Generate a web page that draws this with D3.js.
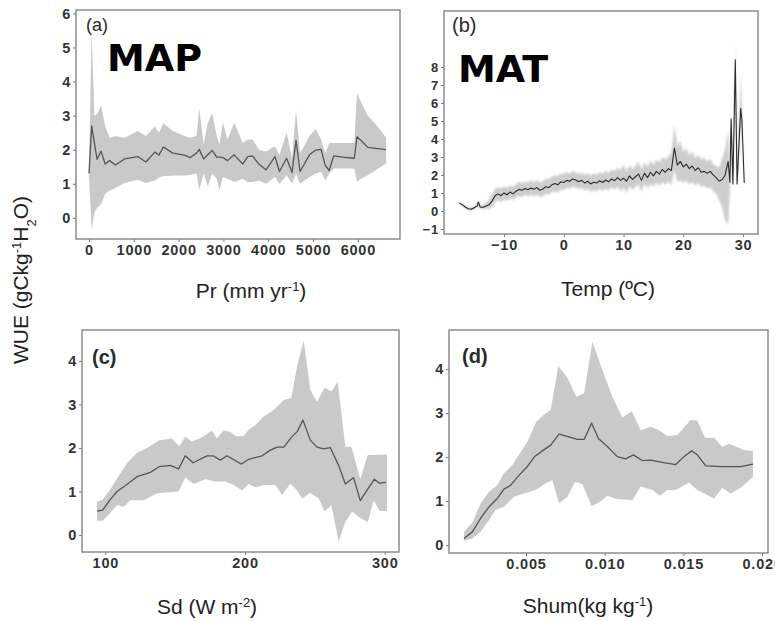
<!DOCTYPE html>
<html>
<head>
<meta charset="utf-8">
<script src="https://cdn.jsdelivr.net/npm/d3@7"></script>
<style>
  body { margin: 0; background: #fff; }
  svg text { font-family: "Liberation Sans", Arial, sans-serif; }
</style>
</head>
<body>
<svg id="chart" width="775" height="621"></svg>
<script>
// ---- (a) WUE vs precipitation ----
const prX    = [0,60,120,180,270,360,460,590,790,1090,1270,1470,1560,1660,1870,2130,2260,2400,2460,2560,2650,2750,2850,2910,2990,3090,3240,3430,3540,3650,3790,3950,4150,4250,4410,4530,4620,4710,4920,5060,5180,5270,5360,5460,5660,5920,5980,6070,6220,6400,6630];
const prMean = [1.30,2.70,2.20,1.72,1.96,1.58,1.68,1.55,1.73,1.80,1.64,1.93,1.84,2.08,1.90,1.84,1.77,1.90,2.01,1.73,1.85,1.98,1.78,1.78,1.77,1.68,1.85,1.58,1.80,1.82,1.58,1.41,1.80,1.36,1.75,1.33,2.27,1.36,1.85,1.99,2.01,1.55,1.39,1.82,1.78,1.75,2.38,2.27,2.07,2.04,2.00];
const prHi   = [1.40,5.50,3.00,3.05,3.30,2.70,2.35,2.40,2.35,2.55,2.40,2.68,2.50,2.78,2.55,2.40,2.35,2.40,3.22,2.15,2.78,3.07,2.40,2.15,2.80,2.30,2.80,2.20,2.30,2.30,2.00,1.95,2.10,1.85,2.50,1.75,3.17,1.90,2.40,2.60,2.30,1.90,2.20,2.20,2.20,2.20,3.66,3.40,3.00,2.75,2.35];
const prLo   = [1.20,-0.35,0.14,0.30,0.40,0.70,0.80,0.88,1.02,1.12,1.02,1.10,1.18,1.22,1.24,1.24,1.26,1.30,0.82,1.30,0.92,1.30,1.15,0.82,1.20,1.15,1.05,1.15,1.05,1.05,1.10,1.00,1.20,1.00,1.25,1.00,1.30,1.00,1.20,1.30,1.35,1.10,1.30,1.45,1.45,1.45,1.07,1.15,1.25,1.40,1.60];
const prTicksX = [0,1000,2000,3000,4000,5000,6000];
const prTicksY = [0,1,2,3,4,5,6];

// ---- (b) WUE vs temperature ----
const tX    = [-17.5,-17,-16.5,-16,-15.5,-15,-14.5,-14.3,-14,-13.5,-13,-12.5,-12,-11.5,-11,-10.5,-10,-9.5,-9,-8.5,-8,-7.5,-7,-6.5,-6,-5.5,-5,-4.5,-4,-3.5,-3,-2.5,-2,-1.5,-1,-0.5,0,0.5,1,1.5,2,2.5,3,3.5,4,4.5,5,5.5,6,6.5,7,7.5,8,8.5,9,9.5,10,10.5,11,11.5,12,12.5,13,13.5,14,14.5,15,15.5,16,16.5,17,17.5,18,18.5,19,19.5,20,20.5,21,21.5,22,22.5,23,23.5,24,24.5,25,25.5,26,26.5,27,27.5,27.8,28.0,28.3,28.7,29.0,29.6,29.8,30.2];
const tMean = [0.45,0.35,0.22,0.12,0.10,0.18,0.28,0.50,0.22,0.20,0.28,0.35,0.55,0.85,0.95,0.85,1.00,0.90,1.05,0.95,1.10,1.20,1.15,1.25,1.18,1.28,1.20,1.30,1.15,1.22,1.35,1.30,1.45,1.52,1.45,1.62,1.58,1.70,1.65,1.78,1.72,1.62,1.70,1.55,1.65,1.50,1.60,1.55,1.68,1.58,1.72,1.62,1.78,1.68,1.85,1.70,1.82,1.65,1.95,1.75,1.90,2.05,1.70,2.10,1.85,2.15,1.95,2.20,2.05,2.30,2.15,2.35,2.25,3.50,2.55,2.75,2.45,2.60,2.35,2.50,2.25,2.40,2.15,2.20,2.10,2.20,2.00,1.85,1.65,1.75,2.00,2.75,1.60,5.10,1.50,8.40,1.50,5.70,5.10,1.55];
const tHi   = [0.52,0.42,0.30,0.20,0.18,0.26,0.38,0.60,0.32,0.32,0.45,0.65,0.95,1.25,1.30,1.25,1.35,1.30,1.40,1.35,1.50,1.62,1.55,1.62,1.58,1.70,1.60,1.72,1.58,1.65,1.80,1.78,1.92,1.98,1.95,2.08,2.05,2.15,2.10,2.22,2.15,2.05,2.12,2.00,2.10,1.98,2.08,2.02,2.15,2.05,2.25,2.10,2.30,2.20,2.40,2.25,2.60,2.20,2.55,2.30,2.50,2.75,2.30,2.70,2.45,2.80,2.55,2.85,2.70,3.00,2.85,3.05,3.20,4.80,3.60,3.90,3.30,3.50,3.10,3.30,2.95,3.10,2.85,2.95,2.75,2.90,2.60,2.50,2.40,2.90,3.40,4.50,2.00,5.60,2.00,9.30,2.00,7.70,5.80,1.70];
const tLo   = [0.38,0.28,0.14,0.04,0.02,0.10,0.18,0.40,0.12,0.10,0.12,0.10,0.20,0.50,0.60,0.48,0.65,0.55,0.70,0.60,0.75,0.82,0.78,0.88,0.80,0.90,0.82,0.92,0.78,0.82,0.95,0.90,1.05,1.10,1.02,1.20,1.15,1.30,1.22,1.35,1.30,1.20,1.28,1.12,1.22,1.05,1.15,1.10,1.22,1.12,1.25,1.15,1.30,1.18,1.35,1.10,1.30,1.00,1.40,1.15,1.35,1.45,1.05,1.50,1.25,1.50,1.35,1.55,1.40,1.60,1.45,1.65,1.40,2.30,1.60,1.70,1.55,1.70,1.45,1.60,1.40,1.55,1.35,1.40,1.25,1.30,1.10,0.95,0.60,0.20,-0.50,-0.80,1.20,3.50,1.30,6.50,1.30,4.50,4.80,1.40];
const tTicksX = [-10,0,10,20,30];
const tTicksY = [-1,0,1,2,3,4,5,6,7,8];

// ---- (c) WUE vs downward shortwave radiation ----
const sdX     = [94,98.1,103.6,108.4,113.2,122.7,132.2,138.6,146.5,152.5,157.2,162.8,172.8,177.1,182.3,187.1,197.4,202.6,212.2,218.1,222.9,227.7,233.6,237.2,241.5,246.7,251.5,256.3,261.0,267.0,271.8,277.7,282.5,287.3,292.5,296.3,300.8];
const sdMean  = [0.55,0.57,0.82,1.00,1.11,1.34,1.44,1.57,1.60,1.52,1.82,1.66,1.82,1.82,1.72,1.82,1.63,1.74,1.82,1.95,2.02,2.02,2.26,2.37,2.64,2.18,2.02,1.98,2.01,1.60,1.17,1.32,0.79,1.03,1.28,1.19,1.21];
const sdHiX   = [94,98,103.6,109.6,115.5,122.7,131,138.6,147.7,152.9,157.2,162,169.1,176.3,179.9,184.6,189.4,193.5,199,202.1,207.4,213.3,220.5,227.7,233.1,237.2,242,246.7,251.5,257,261.8,266.3,271.8,276.1,282.5,287.8,301.6];
const sdHi    = [0.77,0.81,1.05,1.36,1.65,1.89,2.02,2.18,2.22,2.04,2.26,2.15,2.24,2.40,2.22,2.40,2.37,2.27,2.27,2.40,2.53,2.72,2.87,3.10,3.15,3.87,4.47,3.33,3.06,3.39,3.30,3.52,2.03,2.03,1.28,1.84,1.85];
const sdLoX   = [94,98,103.6,108.4,113.2,118,127.5,137,152.5,157.2,163.2,171.6,178.7,185.9,191.9,197.9,202.6,207.4,213.3,221.7,226.5,232.4,237.2,240.8,246.7,252.7,257,261.8,267,271.8,276.6,282.5,287.8,292.1,296.3,301.6];
const sdLo    = [0.33,0.33,0.51,0.69,0.65,0.80,0.80,0.96,1.00,1.32,1.17,1.28,1.23,1.23,1.15,1.02,1.17,1.10,1.15,1.15,0.92,1.18,1.03,0.84,0.97,0.84,0.54,0.69,-0.15,0.30,0.54,0.39,0.30,0.80,0.55,0.55];
const sdTicksX = [100,200,300];
const sdTicksY = [0,1,2,3,4];

// ---- (d) WUE vs specific humidity ----
const shX     = [0.00106,0.00159,0.00212,0.00265,0.00318,0.0036,0.00403,0.00456,0.00508,0.00557,0.00604,0.00657,0.0071,0.00773,0.00826,0.00869,0.00917,0.0096,0.01017,0.0108,0.01133,0.01182,0.01239,0.01292,0.01366,0.01451,0.01504,0.01553,0.01588,0.01642,0.01747,0.01864,0.01942];
const shMean  = [0.15,0.30,0.61,0.87,1.06,1.27,1.36,1.59,1.78,2.02,2.14,2.27,2.52,2.46,2.40,2.40,2.77,2.42,2.24,2.01,1.96,2.05,1.92,1.93,1.88,1.83,2.01,2.14,2.05,1.80,1.78,1.78,1.84];
const shHiX   = [0.00106,0.00159,0.00212,0.00265,0.00318,0.0036,0.00414,0.0046,0.00508,0.00565,0.00614,0.00657,0.00705,0.00763,0.0082,0.00869,0.00922,0.00985,0.01049,0.01112,0.01172,0.01229,0.01292,0.01345,0.01398,0.01462,0.01546,0.01588,0.01637,0.01695,0.01747,0.0179,0.01885,0.01942];
const shHi    = [0.30,0.51,0.95,1.21,1.36,1.63,1.82,2.08,2.34,2.80,2.96,3.07,4.07,3.80,3.37,3.45,4.62,3.98,3.37,2.90,3.04,2.61,2.69,2.61,2.48,2.50,2.84,2.83,2.44,2.44,2.23,2.30,2.16,2.14];
const shLoX   = [0.00106,0.00159,0.00212,0.00265,0.00307,0.0036,0.00424,0.00487,0.00561,0.00625,0.00667,0.0071,0.00763,0.00812,0.00858,0.00917,0.00964,0.01017,0.0107,0.01176,0.01229,0.01303,0.0135,0.01398,0.01451,0.01536,0.01588,0.01695,0.01747,0.018,0.01864,0.01942];
const shLo    = [0.10,0.15,0.30,0.57,0.80,0.87,1.10,1.17,1.25,1.40,1.48,0.95,1.10,1.44,1.39,0.89,0.97,1.12,1.05,1.02,1.33,1.25,1.12,1.25,1.25,1.42,1.25,1.06,1.30,1.17,1.30,1.55];
const shTicksX = [0.005,0.010,0.015,0.020];
const shTicksY = [0,1,2,3,4];

const svg = d3.select("#chart");
const defs = svg.append("defs");
defs.append("filter").attr("id", "soft")
  .attr("x", "-5%").attr("y", "-5%").attr("width", "110%").attr("height", "110%")
  .append("feGaussianBlur").attr("stdDeviation", 1.1);

function drawPanel(p) {
  const x = d3.scaleLinear().domain(p.xDomain).range([p.left, p.right]);
  const y = d3.scaleLinear().domain(p.yDomain).range([p.bottom, p.top]);
  const g = svg.append("g");

  defs.append("clipPath").attr("id", "clip-" + p.id)
    .append("rect").attr("x", p.left).attr("y", p.top)
    .attr("width", p.right - p.left).attr("height", p.bottom - p.top);

  const plot = g.append("g").attr("clip-path", `url(#clip-${p.id})`);
  const line = d3.line().x(d => x(d[0])).y(d => y(d[1]));

  // uncertainty band: upper edge, then lower edge back
  const band = d3.zip(p.hiX, p.hi).concat(d3.zip(p.loX, p.lo).reverse());
  const bandPath = plot.append("path")
    .attr("d", line(band) + "Z")
    .attr("fill", p.bandFill)
    .attr("stroke", "none");
  if (p.soft) bandPath.attr("filter", "url(#soft)");

  plot.append("path")
    .attr("d", line(d3.zip(p.meanX, p.mean)))
    .attr("fill", "none")
    .attr("stroke", p.lineColor)
    .attr("stroke-width", p.lineWidth)
    .attr("stroke-linejoin", "round");

  // axes
  const xAxis = g.append("g").attr("transform", `translate(0,${p.bottom})`)
    .call(d3.axisBottom(x).tickValues(p.xTicks).tickFormat(p.xFmt).tickSize(3).tickPadding(3));
  const yAxis = g.append("g").attr("transform", `translate(${p.left},0)`)
    .call(d3.axisLeft(y).tickValues(p.yTicks).tickFormat(d3.format("d")).tickSize(3).tickPadding(2));
  [xAxis, yAxis].forEach(a => {
    a.select(".domain").remove();
    a.selectAll(".tick line").attr("stroke", "#777");
    a.selectAll(".tick text")
      .attr("fill", "#333")
      .style("font-family", '"Liberation Sans", Arial, sans-serif')
      .style("font-weight", "bold")
      .style("letter-spacing", "0.8px");
  });
  xAxis.selectAll(".tick text").style("font-size", "14.5px");
  yAxis.selectAll(".tick text").style("font-size", p.yFont);

  // panel frame
  g.append("rect")
    .attr("x", p.left).attr("y", p.top)
    .attr("width", p.right - p.left).attr("height", p.bottom - p.top)
    .attr("fill", "none").attr("stroke", "#8c8c8c").attr("stroke-width", 1.5);

  // panel tag
  g.append("text").attr("x", p.tagX).attr("y", p.tagY)
    .attr("fill", "#2a2a2a")
    .style("font-size", p.tagSize).style("font-weight", p.tagWeight)
    .text(p.tag);
}

drawPanel({
  id: "a", left: 76, right: 400, top: 10, bottom: 239,
  xDomain: [-290, 6940], yDomain: [-0.62, 6.10],
  xTicks: prTicksX, yTicks: prTicksY, xFmt: d3.format("d"), yFont: "14.5px",
  meanX: prX, mean: prMean, hiX: prX, hi: prHi, loX: prX, lo: prLo,
  bandFill: "#c9c9c9", lineColor: "#555", lineWidth: 1.3, soft: false,
  tag: "(a)", tagX: 86, tagY: 31, tagSize: "18px", tagWeight: "normal"
});

drawPanel({
  id: "b", left: 444, right: 758, top: 11, bottom: 234,
  xDomain: [-20.05, 32.5], yDomain: [-1.28, 11.11],
  xTicks: tTicksX, yTicks: tTicksY, xFmt: d3.format("d"), yFont: "13px",
  meanX: tX, mean: tMean, hiX: tX, hi: tHi, loX: tX, lo: tLo,
  bandFill: "#cdcdcd", lineColor: "#2b2b2b", lineWidth: 1.1, soft: true,
  tag: "(b)", tagX: 452, tagY: 32, tagSize: "20px", tagWeight: "normal"
});

drawPanel({
  id: "c", left: 82, right: 399, top: 330, bottom: 552,
  xDomain: [83.3, 310.2], yDomain: [-0.39, 4.71],
  xTicks: sdTicksX, yTicks: sdTicksY, xFmt: d3.format("d"), yFont: "14.5px",
  meanX: sdX, mean: sdMean, hiX: sdHiX, hi: sdHi, loX: sdLoX, lo: sdLo,
  bandFill: "#c9c9c9", lineColor: "#555", lineWidth: 1.3, soft: false,
  tag: "(c)", tagX: 92, tagY: 364, tagSize: "20px", tagWeight: "bold"
});

drawPanel({
  id: "d", left: 449, right: 768, top: 330, bottom: 553,
  xDomain: [0.000108, 0.020375], yDomain: [-0.18, 4.886],
  xTicks: shTicksX, yTicks: shTicksY, xFmt: d3.format(".3f"), yFont: "14.5px",
  meanX: shX, mean: shMean, hiX: shHiX, hi: shHi, loX: shLoX, lo: shLo,
  bandFill: "#c9c9c9", lineColor: "#555", lineWidth: 1.3, soft: false,
  tag: "(d)", tagX: 462, tagY: 363, tagSize: "20px", tagWeight: "bold"
});

// axis titles
function title(xc, yc, parts, size, rotate) {
  const t = svg.append("text")
    .attr("text-anchor", "middle")
    .attr("fill", "#222")
    .style("font-size", size + "px")
    .attr("transform", `translate(${xc},${yc})` + (rotate ? " rotate(-90)" : ""));
  parts.forEach(([s, kind]) => {
    const ts = t.append("tspan").text(s);
    if (kind === "sup") ts.attr("baseline-shift", "super").style("font-size", Math.round(size * 0.62) + "px");
    if (kind === "sub") ts.attr("baseline-shift", "sub").style("font-size", Math.round(size * 0.62) + "px");
  });
}

title(251, 298, [["Pr (mm yr"], ["-1", "sup"], [")"]], 21);
title(608, 296, [["Temp (ºC)"]], 21);
title(207, 614, [["Sd (W m"], ["-2", "sup"], [")"]], 21);
title(588, 613, [["Shum(kg kg"], ["-1", "sup"], [")"]], 21);
title(28, 280, [["WUE (gCkg"], ["-1", "sup"], ["H"], ["2", "sub"], ["O)"]], 21, true);

// large variable labels
svg.append("text").attr("x", 107).attr("y", 71)
  .style("font-family", '"DejaVu Sans", sans-serif').style("font-weight", "bold")
  .style("font-size", "38px").attr("fill", "#000").text("MAP");
svg.append("text").attr("x", 458).attr("y", 82)
  .style("font-family", '"DejaVu Sans", sans-serif').style("font-weight", "bold")
  .style("font-size", "38px").attr("fill", "#000").text("MAT");
</script>
</body>
</html>
